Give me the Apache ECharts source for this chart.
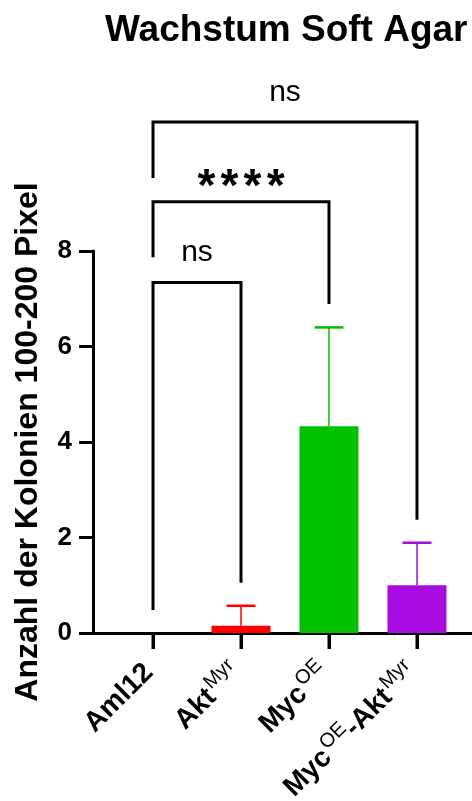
<!DOCTYPE html>
<html><head><meta charset="utf-8">
<script src="https://cdn.jsdelivr.net/npm/echarts@6/dist/echarts.min.js"></script>
<style>html,body{margin:0;padding:0;background:#fff}#c{width:472px;height:801px}</style>
</head><body><div id="c"></div>
<script>
// ---- data ----
const categories = ['Aml12', 'Akt^{Myr}', 'Myc^{OE}', 'Myc^{OE}-Akt^{Myr}'];
const catIndex = [0, 1, 2, 3];
const means = [0, 0.15, 4.33, 1.0];
const sds = [0, 0.42, 2.07, 0.89];
const barColors = ['#000000', '#FF0000', '#00C000', '#A80CE0'];
const yTicks = [0, 2, 4, 6, 8];
// comparisons
const compFrom = [0, 0, 0];
const compTo = [1, 2, 3];
const compTop = [7.34, 9.03, 10.7];
const compLeftEnd = [0.48, 7.87, 9.53];
const compRightEnd = [1.05, 6.89, 2.37];
const compLabels = ['ns', '****', 'ns'];

const FONT = "'Liberation Sans', Arial, sans-serif";

function toRich(s) {
  const parts = s.split(/\^\{([^}]*)\}/);
  let out = '';
  parts.forEach((p, i) => {
    if (!p) return;
    out += (i % 2 === 0 ? '{b|' : '{s|') + p + '}';
  });
  return out;
}

const chart = echarts.init(document.getElementById('c'), null, {renderer: 'canvas'});

const barData = catIndex.map(i => ({value: [i, means[i]], itemStyle: {color: barColors[i]}}));
const errData = catIndex.map(i => [i, means[i], sds[i]]);
const compData = compFrom.map((f, i) => [f, compTo[i], compTop[i], compLeftEnd[i], compRightEnd[i], i]);

const option = {
  animation: false,
  title: {
    text: 'Wachstum Soft Agar',
    left: 105, top: 12, padding: 0,
    textStyle: {fontFamily: FONT, fontSize: 37, fontWeight: 'bold', color: '#000'}
  },
  grid: {left: 93, right: -2, top: 251, bottom: 168, containLabel: false, outerBoundsMode: 'none'},
  xAxis: {
    type: 'value', min: -0.682, max: 3.648,
    axisLine: {show: true, onZero: false, lineStyle: {color: '#000', width: 3}},
    axisTick: {show: true, customValues: catIndex, length: 16, lineStyle: {color: '#000', width: 3}},
    axisLabel: {
      customValues: catIndex, rotate: 45, margin: 31, padding: [0, 6, 0, 0], color: '#000',
      formatter: v => toRich(categories[Math.round(v)]),
      rich: {
        b: {fontFamily: FONT, fontSize: 28, fontWeight: 'bold', color: '#000'},
        s: {fontFamily: FONT, fontSize: 20, fontWeight: 'normal', color: '#000', padding: [0, 0, 17, 2]}
      }
    },
    splitLine: {show: false}
  },
  yAxis: {
    type: 'value', min: yTicks[0], max: yTicks[yTicks.length - 1], interval: 2,
    name: 'Anzahl der Kolonien 100-200 Pixel', nameLocation: 'middle', nameGap: 49,
    nameMoveOverlap: false,
    nameTextStyle: {fontFamily: FONT, fontSize: 32, fontWeight: 'bold', color: '#000'},
    axisLine: {show: true, onZero: false, lineStyle: {color: '#000', width: 3}},
    axisTick: {show: true, length: 14, lineStyle: {color: '#000', width: 3}},
    axisLabel: {fontFamily: FONT, fontSize: 26, fontWeight: 'bold', color: '#000', margin: 21},
    splitLine: {show: false}
  },
  series: [
    {
      type: 'bar', barWidth: 59,
      data: barData
    },
    {
      type: 'custom', clip: false, z: 10,
      data: errData,
      encode: {x: 0, y: 1},
      renderItem: function (params, api) {
        const i = api.value(0), m = api.value(1), sd = api.value(2);
        const base = api.coord([i, yTicks[0]]);
        const children = [
          {type: 'line', shape: {x1: base[0], y1: base[1], x2: base[0], y2: base[1] + 16}, style: {stroke: '#000', lineWidth: 3}}
        ];
        if (sd) {
          const p0 = api.coord([i, m]);
          const p1 = api.coord([i, m + sd]);
          const c = barColors[i];
          children.push(
            {type: 'line', shape: {x1: p0[0], y1: p0[1], x2: p1[0], y2: p1[1]}, style: {stroke: c, lineWidth: 1.5}},
            {type: 'line', shape: {x1: p1[0] - 14.5, y1: p1[1], x2: p1[0] + 14.5, y2: p1[1]}, style: {stroke: c, lineWidth: 2.5}}
          );
        }
        return {type: 'group', children: children};
      }
    },
    {
      type: 'custom', clip: false, z: 10,
      data: compData,
      encode: {x: 0, y: 2},
      renderItem: function (params, api) {
        const f = api.value(0), t = api.value(1), top = api.value(2), le = api.value(3), re = api.value(4);
        const idx = api.value(5);
        const a = api.coord([f, le]), b = api.coord([f, top]), c = api.coord([t, top]), d = api.coord([t, re]);
        const lab = compLabels[idx];
        const stars = lab.indexOf('*') >= 0;
        const txt = stars ? lab.split('').map(ch => '{a|' + ch + '}').join('') : lab;
        return {
          type: 'group',
          children: [
            {type: 'polyline', shape: {points: [a, b, c, d]}, style: {stroke: '#000', lineWidth: 3, fill: null}},
            {type: 'text', style: {
              text: txt, x: (b[0] + c[0]) / 2, y: b[1] - (stars ? 14 : 29.5),
              align: 'center', verticalAlign: 'middle', fill: '#000',
              fontFamily: FONT, fontSize: 30, fontWeight: 'normal',
              rich: {a: {fontFamily: FONT, fontSize: 46, fontWeight: 'bold', fill: '#000', padding: [0, 2.6, 0, 2.6]}}
            }}
          ]
        };
      }
    }
  ]
};
chart.setOption(option);
</script>
</body></html>
